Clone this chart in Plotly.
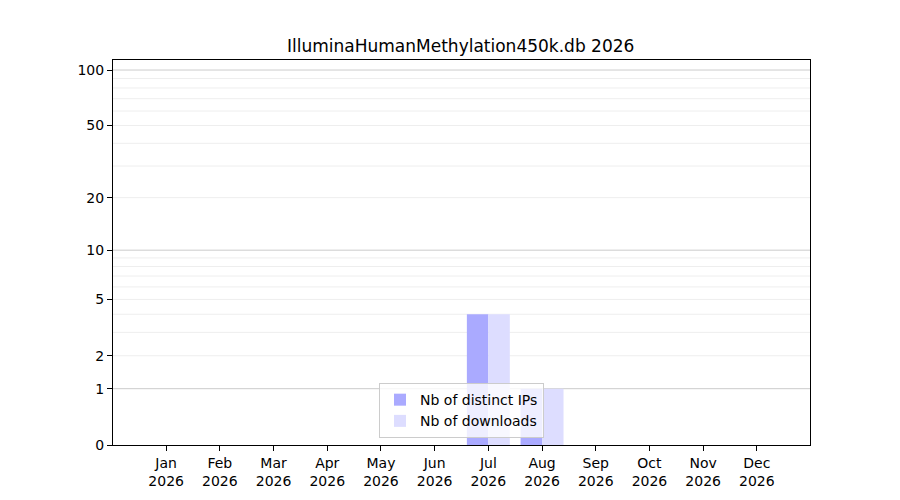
import numpy as np
import plotly.graph_objects as go

# monthly stats
months = ["Jan", "Feb", "Mar", "Apr", "May", "Jun",
          "Jul", "Aug", "Sep", "Oct", "Nov", "Dec"]
year = "2026"
distinct_ips = [0, 0, 0, 0, 0, 0, 4, 1, 0, 0, 0, 0]
downloads = [0, 0, 0, 0, 0, 0, 4, 1, 0, 0, 0, 0]

y_ticks = [0, 1, 2, 5, 10, 20, 50, 100]
major_grid = [1, 10, 100]
minor_grid = [2, 3, 4, 5, 6, 7, 8, 9, 20, 30, 40, 50, 60, 70, 80, 90]


def tr(v):
    # log(1 + x) scale
    return np.log10(1 + np.asarray(v, dtype=float))


x = list(range(len(months)))

fig = go.Figure()
fig.add_trace(go.Bar(x=x, y=tr(distinct_ips), name="Nb of distinct IPs",
                     width=0.4, offset=-0.4, marker_color="#aaaaff",
                     marker_line_width=0))
fig.add_trace(go.Bar(x=x, y=tr(downloads), name="Nb of downloads",
                     width=0.4, offset=0, marker_color="#ddddff",
                     marker_line_width=0))

shapes = []
for v in minor_grid:
    shapes.append(dict(type="line", xref="paper", x0=0, x1=1, yref="y",
                       y0=tr(v), y1=tr(v), layer="below",
                       line=dict(color="#eeeeee", width=1)))
for v in major_grid:
    shapes.append(dict(type="line", xref="paper", x0=0, x1=1, yref="y",
                       y0=tr(v), y1=tr(v), layer="below",
                       line=dict(color="#cccccc", width=1)))

fig.update_layout(
    width=900, height=500,
    margin=dict(l=105, r=98, t=52, b=63),
    paper_bgcolor="white", plot_bgcolor="white",
    font=dict(family="DejaVu Sans", size=14, color="black"),
    title=dict(text="IlluminaHumanMethylation450k.db " + year, x=0.503,
               xanchor="center", y=0.924, yanchor="middle",
               font=dict(size=17)),
    barmode="overlay",
    shapes=shapes,
    legend=dict(x=0.5, xanchor="center", y=0.018, yanchor="bottom",
                bgcolor="rgba(255,255,255,0.8)", bordercolor="#cccccc",
                borderwidth=1, font=dict(size=14)),
    showlegend=True,
)
fig.update_xaxes(range=[-0.99, 11.99], tickvals=x,
                 ticktext=[m + "<br>" + year for m in months],
                 showgrid=False, zeroline=False, showline=True,
                 linecolor="black", linewidth=1, mirror=True,
                 ticks="outside", ticklen=5, tickcolor="black")
fig.update_yaxes(range=[0, 2.058], tickvals=tr(y_ticks),
                 ticktext=[str(t) for t in y_ticks],
                 showgrid=False, zeroline=False, showline=True,
                 linecolor="black", linewidth=1, mirror=True,
                 ticks="outside", ticklen=5, tickcolor="black")

fig.write_html("out.html")
